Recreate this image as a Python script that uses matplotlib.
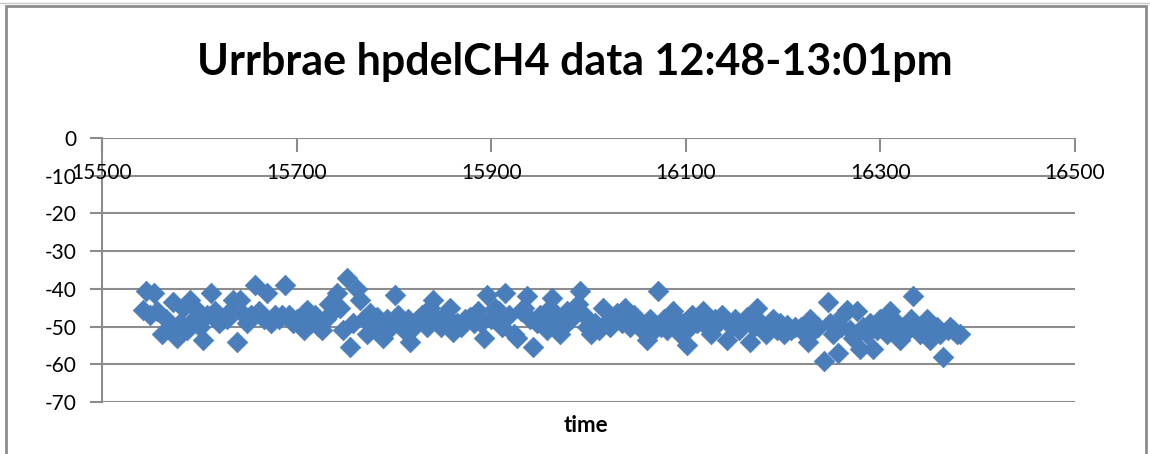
import matplotlib
matplotlib.use("Agg")
import matplotlib.pyplot as plt
from matplotlib.patches import Rectangle
from matplotlib.lines import Line2D

plt.rcParams['font.family'] = ['Lato', 'DejaVu Sans']

title = "Urrbrae hpdelCH4 data 12:48-13:01pm"
x_label = "time"
x_ticks = [15500, 15700, 15900, 16100, 16300, 16500]
y_ticks = [0, -10, -20, -30, -40, -50, -60, -70]

time = [
    15542, 15545, 15549, 15553, 15557, 15562, 15566, 15570, 15573, 15577,
    15580, 15583, 15587, 15590, 15595, 15598, 15601, 15604, 15608, 15612,
    15616, 15620, 15624, 15628, 15632, 15635, 15639, 15642, 15646, 15649,
    15653, 15657, 15661, 15666, 15670, 15674, 15678, 15682, 15685, 15688,
    15692, 15696, 15700, 15704, 15708, 15711, 15715, 15719, 15723, 15726,
    15730, 15733, 15737, 15742, 15745, 15748, 15752, 15755, 15758, 15762,
    15765, 15769, 15772, 15775, 15780, 15783, 15786, 15789, 15793, 15797,
    15801, 15804, 15806, 15810, 15814, 15817, 15821, 15825, 15829, 15834,
    15837, 15840, 15844, 15848, 15853, 15858, 15861, 15865, 15869, 15873,
    15878, 15882, 15886, 15890, 15893, 15896, 15900, 15904, 15908, 15911,
    15914, 15918, 15923, 15927, 15931, 15934, 15937, 15940, 15943, 15947,
    15950, 15953, 15957, 15960, 15963, 15967, 15971, 15974, 15978, 15982,
    15986, 15989, 15991, 15995, 15998, 16003, 16007, 16011, 16015, 16018,
    16022, 16026, 16029, 16034, 16037, 16040, 16043, 16047, 16051, 16055,
    16060, 16063, 16067, 16071, 16074, 16078, 16081, 16084, 16087, 16091,
    16094, 16098, 16101, 16104, 16106, 16111, 16115, 16118, 16122, 16126,
    16130, 16133, 16137, 16142, 16147, 16151, 16155, 16159, 16163, 16166,
    16170, 16173, 16177, 16182, 16186, 16190, 16194, 16197, 16201, 16204,
    16208, 16212, 16218, 16222, 16226, 16228, 16232, 16236, 16242, 16246,
    16248, 16251, 16256, 16259, 16262, 16266, 16269, 16272, 16276, 16279,
    16282, 16286, 16289, 16292, 16297, 16300, 16304, 16307, 16310, 16314,
    16317, 16320, 16324, 16328, 16331, 16334, 16338, 16341, 16345, 16348,
    16351, 16355, 16358, 16361, 16364, 16369, 16372, 16375, 16379, 16382,
]

delCH4 = [
    -45.5, -40.5, -47, -41, -46, -52, -48, -50, -43.5, -53,
    -49, -45, -51, -43, -48, -45.5, -50, -53.5, -47, -41,
    -46, -49, -48, -48, -46, -43, -54, -43, -47, -49,
    -47, -39, -46, -48, -41, -49, -47, -48, -47, -39,
    -47, -49, -48, -48, -51, -45.5, -49, -47, -50, -51,
    -48, -44, -46, -41, -45, -51, -37, -55.5, -49, -40,
    -43, -48, -52, -46.5, -50, -47.5, -51, -53, -48, -50,
    -41.5, -47, -49, -51, -48, -54, -50, -48, -47, -50,
    -45, -43, -48, -50, -47, -45, -51.5, -49, -50, -48,
    -47.5, -49, -46, -49, -53, -41.5, -48, -45, -46, -50,
    -41, -47, -52, -53, -46, -45, -42, -48, -55.5, -49,
    -47, -49, -51, -45, -42.5, -48, -52, -50, -46, -48,
    -45, -44, -40.5, -47, -50, -52, -49, -51, -45, -49,
    -50, -48, -46.5, -49, -45, -48, -50, -47, -49, -51,
    -53.5, -48, -51, -40.5, -50, -48, -51, -49, -46, -48,
    -52, -49, -55, -50, -47, -49, -48, -46, -50, -52,
    -48, -49, -47, -53.5, -50, -48, -51, -49, -47.5, -54,
    -50, -45, -49, -52, -50, -48, -51, -49, -52, -49.5,
    -51, -50, -50, -52, -54, -48, -51, -50, -59, -43.5,
    -49, -52, -57, -50, -47, -45.5, -51, -53, -46, -56,
    -50, -52, -49, -56, -51, -48, -50, -52, -46, -50,
    -49, -53.5, -50, -51, -48, -42, -50, -52, -50, -48,
    -53.5, -51, -50, -52, -58, -51, -50, -51, -52, -52,
]

W, H = 1150, 454
fig = plt.figure(figsize=(W / 100, H / 100), dpi=100)
fig.patch.set_facecolor('white')

# chart-area border
fig.add_artist(Rectangle((6 / W, -0.1), (1146 - 6) / W, 1.1 - 6 / H,
                         transform=fig.transFigure, fill=False,
                         edgecolor='#8c8c8c', linewidth=2.0))
fig.add_artist(Line2D([0, 1], [1 - 2.5 / H, 1 - 2.5 / H], transform=fig.transFigure,
                      color='#c8c8c8', linewidth=1.0))

left, right, top, bottom = 102, 1075, 138, 402
ax = fig.add_axes([left / W, 1 - bottom / H, (right - left) / W, (bottom - top) / H])
ax.set_xlim(15500, 16500)
ax.set_ylim(-70, 0)

for yv in y_ticks:
    ax.axhline(yv, color='#8c8c8c', linewidth=1.5, zorder=1)

ax.scatter(time, delCH4, marker='D', s=110, color='#4a7ebb',
           edgecolors='#4a7ebb', linewidths=0.5, zorder=3, clip_on=False)

for side in ['top', 'right', 'bottom']:
    ax.spines[side].set_visible(False)
ax.spines['left'].set_color('#8c8c8c')
ax.spines['left'].set_linewidth(1.5)

ax.set_yticks(y_ticks)
ax.set_yticklabels([str(v) for v in y_ticks])
ax.tick_params(axis='y', length=9, width=1.5, color='#8c8c8c', pad=9,
               labelsize=15)

ax.set_xticks(x_ticks)
ax.xaxis.set_ticks_position('top')
ax.tick_params(axis='x', direction='in', length=10, width=1.5, color='#8c8c8c',
               labeltop=False, labelbottom=False)
for xv in x_ticks:
    ax.text(xv, -9.2, str(xv), ha='center', va='center', fontsize=15, zorder=4)

fig.text(575 / W, 1 - 62 / H, title, ha='center', va='center',
         fontsize=31, fontweight='bold')
fig.text(586 / W, 1 - 425 / H, x_label, ha='center', va='center',
         fontsize=16, fontweight='bold')

fig.savefig('out.png', dpi=100, facecolor='white')
